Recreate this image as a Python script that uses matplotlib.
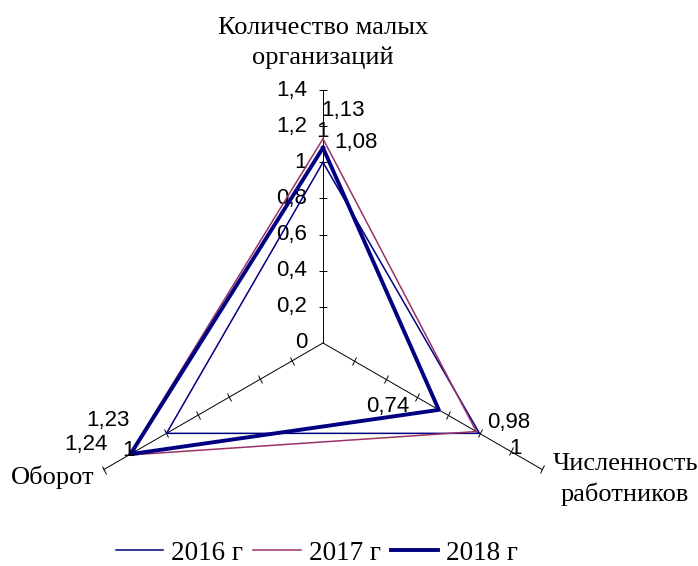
import numpy as np
import matplotlib.pyplot as plt
from matplotlib.markers import MarkerStyle
from matplotlib.transforms import Affine2D


categories = ["Количество малых\nорганизаций", "Численность\nработников", "Оборот"]
years = ["2016 г", "2017 г", "2018 г"]
values_2016 = [1.00, 1.00, 1.00]
values_2017 = [1.13, 0.98, 1.24]
values_2018 = [1.08, 0.74, 1.23]
r_ticks = [0, 0.2, 0.4, 0.6, 0.8, 1.0, 1.2, 1.4]

series = [values_2016, values_2017, values_2018]
colors = ["#000080", "#993366", "#000080"]
widths = [1.1, 1.1, 2.8]

# смещения подписей данных (в пикселях, y вниз) для каждой точки
label_offsets = [
    [(0, -31), (36, 15), (-38, 17)],
    [(20, -28), (32, -9), (-43, -11)],
    [(33, -5), (-51, -3), (-23, -34)],
]
cat_offsets = [(0, -47), (83, 10), (-51, 8)]

serif = "Liberation Serif"
sans = "Liberation Sans"

fig = plt.figure(figsize=(6.98, 5.66), dpi=100)
ax = fig.add_axes([70 / 698, -30 / 566, 506 / 698, 506 / 566], projection="polar")
ax.set_theta_zero_location("N")
ax.set_theta_direction(-1)
ax.set_rlim(0, 1.4)
ax.axis("off")

n = len(categories)
angles = np.arange(n) * 2 * np.pi / n

# оси-лучи с засечками
for i, theta in enumerate(angles):
    ax.plot([theta, theta], [0, r_ticks[-1]], color="black", lw=0.7,
            clip_on=False, zorder=1)
    screen_angle = 90 - np.degrees(theta)
    tick_marker = MarkerStyle("|", transform=Affine2D().rotate_deg(screen_angle))
    ax.plot([theta] * (len(r_ticks) - 1), r_ticks[1:], linestyle="none",
            marker=tick_marker, markersize=6, markeredgewidth=0.7,
            color="black", clip_on=False, zorder=1)
    ax.annotate(categories[i], xy=(theta, r_ticks[-1]),
                xytext=(cat_offsets[i][0], -cat_offsets[i][1]),
                textcoords="offset pixels", ha="center", va="center",
                fontsize=19, family=serif, linespacing=1.45)

# подписи шкалы на верхней оси
for r in r_ticks:
    ax.annotate(f"{r:g}".replace(".", ","), xy=(0, r), xytext=(-16, 0),
                textcoords="offset pixels", ha="right", va="center",
                fontsize=16, family=sans)

closed = np.append(angles, angles[0])
for k, vals in enumerate(series):
    ax.plot(closed, vals + vals[:1], color=colors[k], lw=widths[k],
            label=years[k], clip_on=False, zorder=3 + (k == 2))
    for i, v in enumerate(vals):
        dx, dy = label_offsets[k][i]
        ax.annotate(f"{v:g}".replace(".", ","), xy=(angles[i], v),
                    xytext=(dx, -dy), textcoords="offset pixels",
                    ha="center", va="center", fontsize=16, family=sans,
                    zorder=5)

fig.legend(loc="center", bbox_to_anchor=(317 / 698, 1 - 553 / 566), ncol=3,
           frameon=False, prop={"family": serif, "size": 19.5},
           handlelength=1.74, handletextpad=0.3, columnspacing=0.37,
           borderpad=0.1)

fig.savefig("out.png", dpi=100)
